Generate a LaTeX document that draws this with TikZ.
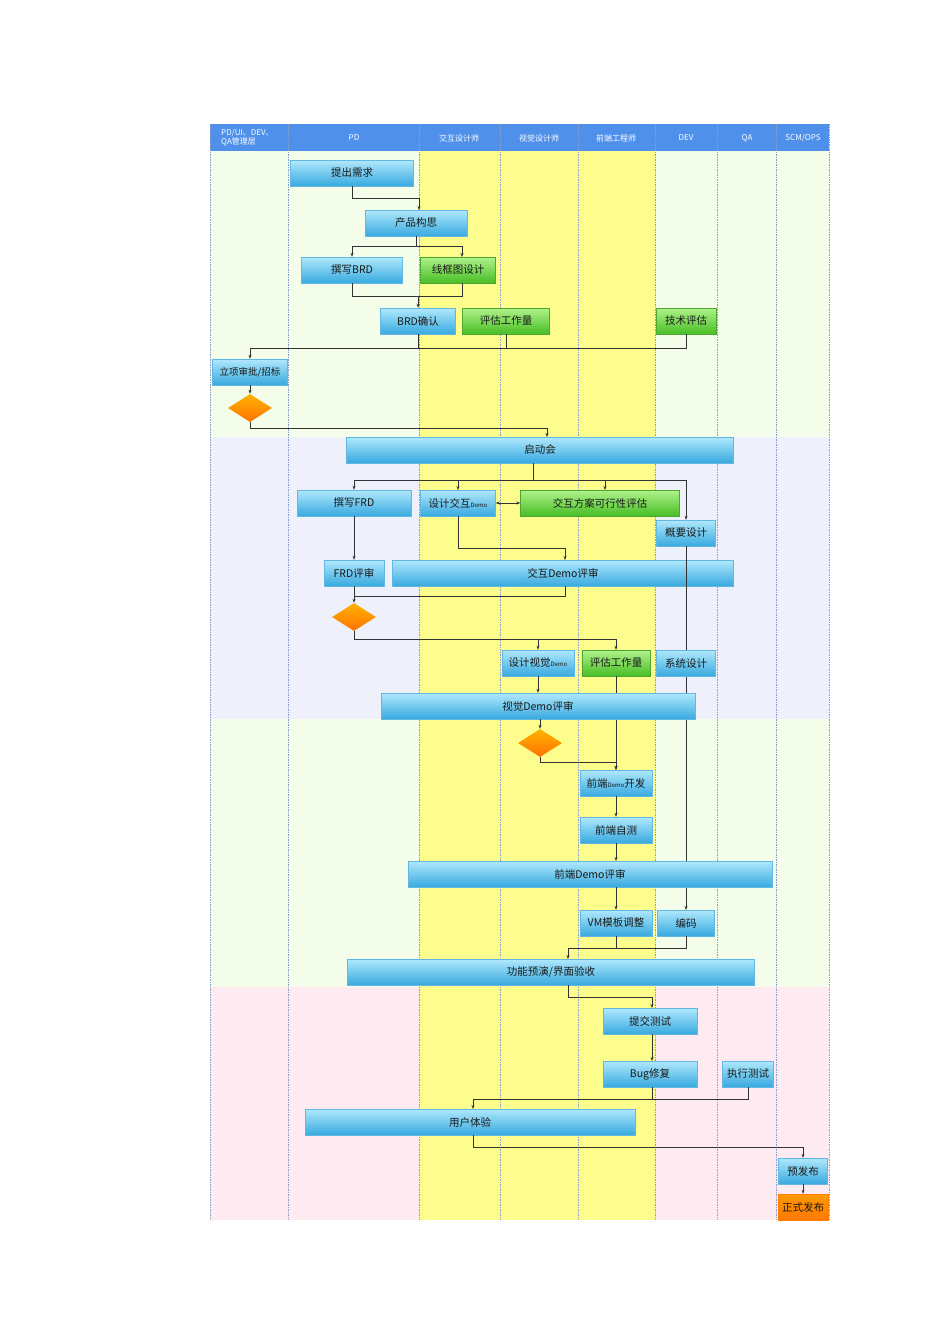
\documentclass[tikz,border=0pt]{standalone}
\usepackage{fontspec}
\setmainfont{Noto Sans CJK SC}
\usetikzlibrary{shapes.geometric,arrows.meta}
\definecolor{hdr}{HTML}{4E90EA}
\definecolor{bgG}{HTML}{F3FDE9}
\definecolor{bgL}{HTML}{EEF0FC}
\definecolor{bgP}{HTML}{FDEBF1}
\definecolor{yel}{HTML}{FDFD8E}
\definecolor{bTop}{HTML}{B0E8FC}
\definecolor{bBot}{HTML}{38AADF}
\definecolor{bEdge}{HTML}{62B8E2}
\definecolor{gTop}{HTML}{B0F28A}
\definecolor{gBot}{HTML}{48BE26}
\definecolor{gEdge}{HTML}{4CA830}
\definecolor{lane}{HTML}{8A9CC8}
\definecolor{ln}{HTML}{333333}
\tikzset{
 bx/.style={rectangle,draw=bEdge,top color=bTop,bottom color=bBot,minimum height=26,inner sep=1,font=\fontsize{10.5}{12}\selectfont,text=black!90},
 gx/.style={bx,draw=gEdge,top color=gTop,bottom color=gBot},
 dm/.style={diamond,draw=none,top color=orange!60!yellow,bottom color=orange!90!red,minimum width=44,minimum height=28,inner sep=0,aspect=1.6},
 ar/.style={draw=ln,line width=0.6pt,-{Stealth[length=4pt,width=3pt]}},
 li/.style={draw=ln,line width=0.6pt}
}
\newcommand{\smdemo}{{\fontsize{6}{7}\selectfont Demo}}
\begin{document}
\begin{tikzpicture}[x=1pt,y=-1pt]
\useasboundingbox (0,0) rectangle (950,1344);
\fill[bgG] (210,151) rectangle (829,437);
\fill[bgL] (210,437) rectangle (829,719);
\fill[bgG] (210,719) rectangle (829,987);
\fill[bgP] (210,987) rectangle (829,1220);
\fill[yel] (419,151) rectangle (655,1220);
\fill[hdr] (210,124) rectangle (829,151);
\foreach \x in {210,288,419,500,578,655,717,776,829}
  \draw[lane,line width=0.5pt,dash pattern=on 1.5pt off 1pt] (\x,124) -- (\x,1220);
\begin{scope}[font=\fontsize{8}{9}\selectfont,text=white]
\node[align=left,anchor=west,inner sep=0] (h1) at (221,138) {PD/UI、DEV、\\QA管理层};
\node (h2) at (354,138) {PD};
\node (h3) at (459,138) {交互设计师};
\node (h4) at (539,138) {视觉设计师};
\node (h5) at (616,138) {前端工程师};
\node (h6) at (686,138) {DEV};
\node (h7) at (747,138) {QA};
\node (h8) at (803,138) {SCM/OPS};
\end{scope}
\node[bx,minimum width=123] (n1) at (352,173) {提出需求};
\node[bx,minimum width=102] (n2) at (416,223) {产品构思};
\node[bx,minimum width=101] (n3) at (352,270) {撰写BRD};
\node[gx,minimum width=75] (n4) at (458,270) {线框图设计};
\node[bx,minimum width=75] (n5) at (418,321) {BRD确认};
\node[gx,minimum width=87] (n6) at (506,321) {评估工作量};
\node[gx,minimum width=60] (n7) at (686,321) {技术评估};
\node[bx,minimum width=75,font=\fontsize{9.5}{11}\selectfont] (n8) at (250,372) {立项审批/招标};
\node[dm] (d1) at (250,408) {};
\node[bx,minimum width=387] (n9) at (540,450) {启动会};
\node[bx,minimum width=114] (n10) at (354,503) {撰写FRD};
\node[bx,minimum width=75] (n11) at (458,503) {设计交互\smdemo};
\node[gx,minimum width=159] (n12) at (600,503) {交互方案可行性评估};
\node[bx,minimum width=59] (n13) at (686,533) {概要设计};
\node[bx,minimum width=60] (n14) at (354,573) {FRD评审};
\node[bx,minimum width=341] (n15) at (563,573) {交互Demo评审};
\node[dm] (d2) at (354,617) {};
\node[bx,minimum width=72] (n16) at (538,663) {设计视觉\smdemo};
\node[gx,minimum width=68] (n17) at (616,663) {评估工作量};
\draw[ar] (n13.south) -- (686,910);
\draw[ar] (n17.south) -- (616,770);
\node[bx,minimum width=59] (n18) at (686,663) {系统设计};
\node[bx,minimum width=314] (n19) at (538,706) {视觉Demo评审};
\node[dm] (d3) at (540,743) {};
\node[bx,minimum width=72] (n20) at (616,783) {前端\smdemo 开发};
\node[bx,minimum width=72] (n21) at (616,830) {前端自测};
\node[bx,minimum width=364] (n22) at (590,874) {前端Demo评审};
\node[bx,minimum width=72] (n23) at (616,923) {VM模板调整};
\node[bx,minimum width=57] (n24) at (686,923) {编码};
\node[bx,minimum width=407] (n25) at (551,972) {功能预演/界面验收};
\node[bx,minimum width=94] (n26) at (650,1021) {提交测试};
\node[bx,minimum width=94] (n27) at (650,1074) {Bug修复};
\node[bx,minimum width=51] (n28) at (748,1074) {执行测试};
\node[bx,minimum width=330] (n29) at (470,1122) {用户体验};
\node[bx,minimum width=49] (n30) at (803,1171) {预发布};
\node[bx,draw=orange,top color=orange!80!yellow,bottom color=orange!95!red,minimum width=50] (n31) at (803,1207) {正式发布};
\draw[ar] (n1.south) |- (419,198) -- (419,210);
\draw[li] (n2.south) -- (416,246);
\draw[ar] (416,246) -| (n3.north);
\draw[ar] (416,246) -| (462,257);
\draw[li] (n3.south) |- (462,296) -- (462,283);
\draw[ar] (418,296) -- (n5.north);
\draw[li] (n5.south) -- (418,348);
\draw[li] (n6.south) -- (506,348);
\draw[ar] (n7.south) |- (250,348) -- (n8.north);
\draw[ar] (n8.south) -- (d1.north);
\draw[ar] (d1.south) |- (547,428) -- (547,437);
\draw[li] (533,463) -- (533,480);
\draw[ar] (354,480) -- (n10.north);
\draw[ar] (354,480) -| (458,490);
\draw[ar] (458,480) -| (605,490);
\draw[ar] (605,480) -| (n13.north);
\draw[draw=ln,line width=0.6pt,{Stealth[length=4pt,width=3pt]}-{Stealth[length=4pt,width=3pt]}] (n11.east) -- (n12.west);
\draw[ar] (n10.south) -- (n14.north);
\draw[ar] (n11.south) |- (565,548) -- (565,560);
\draw[ar] (n14.south) -- (d2.north);
\draw[li] (565,586) |- (354,596);
\draw[ar] (d2.south) |- (616,639) -- (n17.north);
\draw[ar] (538,639) -- (n16.north);
\draw[ar] (n16.south) -- (n19.north);
\draw[ar] (540,719) -- (d3.north);
\draw[ar] (d3.south) |- (616,762) -- (n20.north);
\draw[ar] (n20.south) -- (n21.north);
\draw[ar] (n21.south) -- (616,861);
\draw[ar] (616,887) -- (n23.north);
\draw[li] (n24.south) |- (616,948) -- (n23.south);
\draw[ar] (616,948) -| (568,959);
\draw[ar] (568,985) |- (652,997) -- (652,1008);
\draw[ar] (652,1034) -- (652,1061);
\draw[li] (652,1087) -- (652,1099);
\draw[ar] (n28.south) |- (473,1099) -- (473,1109);
\draw[ar] (473,1135) |- (803,1147) -- (n30.north);
\draw[ar] (n30.south) -- (n31.north);
\end{tikzpicture}
\end{document}
